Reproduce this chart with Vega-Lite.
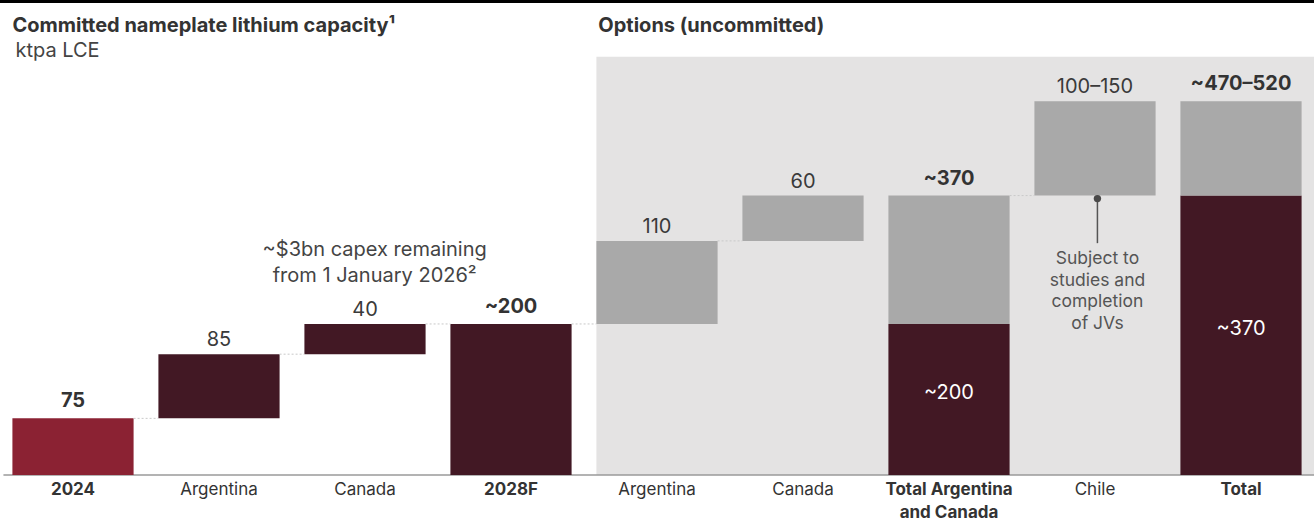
{
  "$schema": "https://vega.github.io/schema/vega-lite/v6.json",
  "width": 1314,
  "height": 475,
  "autosize": {"type": "none"},
  "padding": {"left": 0, "top": 0, "right": 0, "bottom": 46},
  "background": "white",
  "config": {"view": {"stroke": null}, "font": "Inter"},
  "datasets": {
    "bars": [
      {"id": "y2024", "lo": 0, "hi": 75, "kind": "base"},
      {"id": "arg_c", "lo": 75, "hi": 160, "kind": "committed"},
      {"id": "can_c", "lo": 160, "hi": 200, "kind": "committed"},
      {"id": "y2028", "lo": 0, "hi": 200, "kind": "committed"},
      {"id": "arg_o", "lo": 200, "hi": 310, "kind": "option"},
      {"id": "can_o", "lo": 310, "hi": 370, "kind": "option"},
      {"id": "tot_ac", "lo": 0, "hi": 200, "kind": "committed"},
      {"id": "tot_ac", "lo": 200, "hi": 370, "kind": "option"},
      {"id": "chile", "lo": 370, "hi": 495, "kind": "option"},
      {"id": "total", "lo": 0, "hi": 370, "kind": "committed"},
      {"id": "total", "lo": 370, "hi": 495, "kind": "option"}
    ],
    "labels": [
      {"id": "y2024", "top": 75, "text": "75", "bold": true},
      {"id": "arg_c", "top": 160, "text": "85", "bold": false},
      {"id": "can_c", "top": 200, "text": "40", "bold": false},
      {"id": "y2028", "top": 200, "text": "~200", "bold": true},
      {"id": "arg_o", "top": 310, "text": "110", "bold": false},
      {"id": "can_o", "top": 370, "text": "60", "bold": false},
      {"id": "tot_ac", "top": 370, "text": "~370", "bold": true},
      {"id": "chile", "top": 495, "text": "100–150", "bold": false},
      {"id": "total", "top": 495, "text": "~470–520", "bold": true}
    ],
    "inner": [
      {"id": "tot_ac", "mid": 100, "text": "~200"},
      {"id": "total", "mid": 185, "text": "~370"}
    ],
    "connectors": [
      {"from": "y2024", "to": "arg_c", "level": 75},
      {"from": "arg_c", "to": "can_c", "level": 160},
      {"from": "can_c", "to": "y2028", "level": 200},
      {"from": "y2028", "to": "arg_o", "level": 200},
      {"from": "arg_o", "to": "can_o", "level": 310},
      {"from": "tot_ac", "to": "chile", "level": 370}
    ]
  },
  "layer": [
    {
      "data": {"values": [{"from": "arg_o", "to": "total", "lo": 0, "hi": 554}]},
      "mark": {"type": "rect", "color": "#E4E3E3"},
      "encoding": {
        "x": {"field": "from", "type": "nominal", "bandPosition": 0,
          "scale": {"domain": ["y2024", "arg_c", "can_c", "y2028", "arg_o", "can_o", "tot_ac", "chile", "total"], "paddingInner": 0.17, "paddingOuter": 0.085},
          "axis": {
            "title": null, "domain": false, "ticks": false, "tickSize": 0, "labelAngle": 0,
            "labelFontSize": 17, "labelColor": "#333333", "labelPadding": 6, "labelLineHeight": 23,
            "labelOverlap": false, "labelBound": false, "labelLimit": 300,
            "labelExpr": "{'y2024':'2024','arg_c':'Argentina','can_c':'Canada','y2028':'2028F','arg_o':'Argentina','can_o':'Canada','tot_ac':['Total Argentina','and Canada'],'chile':'Chile','total':'Total'}[datum.value]",
            "labelFontWeight": {"condition": {"test": "indexof(['y2024','y2028','tot_ac','total'], datum.value) >= 0", "value": "bold"}, "value": "normal"}
          }
        },
        "x2": {"field": "to", "bandPosition": 1.114},
        "y": {"field": "lo", "type": "quantitative", "scale": {"domain": [0, 629], "nice": false, "zero": true}, "axis": null},
        "y2": {"field": "hi"}
      }
    },
    {
      "data": {"values": [{}]},
      "mark": {"type": "rule", "color": "#000000", "strokeWidth": 3},
      "encoding": {"y": {"datum": 627, "type": "quantitative"}}
    },
    {
      "data": {"values": [{}]},
      "mark": {"type": "rule", "color": "#9a9a9a", "strokeWidth": 1.5},
      "encoding": {
        "x": {"datum": "y2024", "type": "nominal", "bandPosition": -0.074},
        "x2": {"datum": "total", "bandPosition": 1.11},
        "y": {"datum": 0, "type": "quantitative"}
      }
    },
    {
      "data": {"name": "bars"},
      "mark": {"type": "bar"},
      "encoding": {
        "x": {"field": "id", "type": "nominal"},
        "y": {"field": "lo", "type": "quantitative"},
        "y2": {"field": "hi"},
        "color": {"field": "kind", "type": "nominal", "legend": null,
          "scale": {"domain": ["base", "committed", "option"], "range": ["#8B2233", "#421824", "#A9A9A9"]}}
      }
    },
    {
      "data": {"name": "connectors"},
      "mark": {"type": "rule", "color": "#c9c9c9", "strokeWidth": 1, "strokeDash": [2, 2]},
      "encoding": {
        "x": {"field": "from", "type": "nominal", "bandPosition": 1},
        "x2": {"field": "to", "bandPosition": 0},
        "y": {"field": "level", "type": "quantitative"}
      }
    },
    {
      "data": {"name": "labels"},
      "transform": [{"filter": "!datum.bold"}],
      "mark": {"type": "text", "fontSize": 20, "color": "#3a3a3a", "baseline": "alphabetic", "dy": -8},
      "encoding": {
        "x": {"field": "id", "type": "nominal"},
        "y": {"field": "top", "type": "quantitative"},
        "text": {"field": "text"}
      }
    },
    {
      "data": {"name": "labels"},
      "transform": [{"filter": "datum.bold"}],
      "mark": {"type": "text", "fontSize": 20, "fontWeight": "bold", "color": "#333333", "baseline": "alphabetic", "dy": -11},
      "encoding": {
        "x": {"field": "id", "type": "nominal"},
        "y": {"field": "top", "type": "quantitative"},
        "text": {"field": "text"}
      }
    },
    {
      "data": {"name": "inner"},
      "mark": {"type": "text", "fontSize": 20, "color": "#ffffff", "baseline": "middle", "dy": -6},
      "encoding": {
        "x": {"field": "id", "type": "nominal"},
        "y": {"field": "mid", "type": "quantitative"},
        "text": {"field": "text"}
      }
    },
    {
      "data": {"values": [{}]},
      "mark": {"type": "rule", "color": "#555555", "strokeWidth": 1.5},
      "encoding": {
        "x": {"datum": "chile", "type": "nominal", "bandPosition": 0.52},
        "y": {"datum": 366, "type": "quantitative"},
        "y2": {"datum": 307}
      }
    },
    {
      "data": {"values": [{}]},
      "mark": {"type": "point", "filled": true, "opacity": 1, "color": "#4a4a4a", "size": 55},
      "encoding": {
        "x": {"datum": "chile", "type": "nominal", "bandPosition": 0.52},
        "y": {"datum": 366, "type": "quantitative"}
      }
    },
    {
      "data": {"values": [{}]},
      "mark": {"type": "text", "text": ["Subject to", "studies and", "completion", "of JVs"], "fontSize": 17.5, "color": "#555555", "baseline": "alphabetic", "lineHeight": 21.7},
      "encoding": {
        "x": {"datum": "chile", "type": "nominal", "bandPosition": 0.52},
        "y": {"datum": 279.5, "type": "quantitative"}
      }
    },
    {
      "data": {"values": [{}]},
      "mark": {"type": "text", "text": ["~$3bn capex remaining", "from 1 January 2026²"], "fontSize": 20, "color": "#444444", "baseline": "alphabetic", "lineHeight": 26},
      "encoding": {
        "x": {"datum": "can_c", "type": "nominal", "bandPosition": 0.58},
        "y": {"datum": 290, "type": "quantitative"}
      }
    },
    {
      "data": {"values": [{}]},
      "mark": {"type": "text", "text": "Committed nameplate lithium capacity¹", "fontSize": 20, "fontWeight": "bold", "color": "#333333", "align": "left", "baseline": "middle"},
      "encoding": {
        "x": {"datum": "y2024", "type": "nominal", "bandPosition": 0},
        "y": {"datum": 595, "type": "quantitative"}
      }
    },
    {
      "data": {"values": [{}]},
      "mark": {"type": "text", "text": "ktpa LCE", "fontSize": 20, "color": "#444444", "align": "left", "baseline": "middle"},
      "encoding": {
        "x": {"datum": "y2024", "type": "nominal", "bandPosition": 0.025},
        "y": {"datum": 561, "type": "quantitative"}
      }
    },
    {
      "data": {"values": [{}]},
      "mark": {"type": "text", "text": "Options (uncommitted)", "fontSize": 20, "fontWeight": "bold", "color": "#333333", "align": "left", "baseline": "middle"},
      "encoding": {
        "x": {"datum": "arg_o", "type": "nominal", "bandPosition": 0.016},
        "y": {"datum": 595, "type": "quantitative"}
      }
    }
  ]
}
